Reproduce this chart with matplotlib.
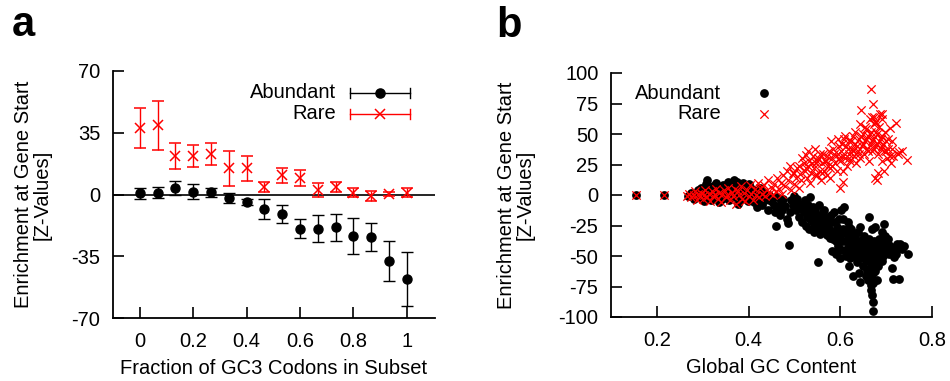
import numpy as np
import matplotlib
matplotlib.use("Agg")
import matplotlib.pyplot as plt

plt.rcParams["font.family"] = ["Liberation Sans", "DejaVu Sans"]
plt.rcParams["font.size"] = 14.5
plt.rcParams["axes.unicode_minus"] = False

FS = 14.5

# ---------------- panel a: enrichment vs GC3 fraction ----------------
gc3_fraction = [i / 15 for i in range(16)]
abundant_mean = [0.6, 1.1, 3.6, 1.7, 1.3, -1.9, -4.2, -8.3, -11.0, -19.3,
                 -19.3, -18.7, -23.3, -24.0, -37.8, -48.0]
abundant_err = [3.2, 3.0, 4.0, 4.0, 2.5, 2.7, 1.5, 5.7, 5.2, 5.3,
                7.4, 7.6, 10.2, 8.0, 11.4, 15.3]
rare_mean = [37.8, 39.3, 21.8, 21.9, 22.9, 14.8, 14.9, 4.4, 11.0, 9.5,
             2.5, 4.4, 1.1, -0.9, 0.4, 1.1]
rare_err = [11.4, 13.9, 7.2, 6.2, 6.2, 9.8, 7.2, 2.7, 4.2, 4.5,
            4.0, 2.8, 2.6, 2.7, 1.3, 2.5]

# ---------------- panel b: enrichment vs global GC content ----------------
abundant_gc = [
    0.155, 0.215,
    0.268, 0.275, 0.280, 0.285, 0.290, 0.292, 0.296, 0.300, 0.303, 0.305,
    0.308, 0.310, 0.313, 0.316, 0.318, 0.320, 0.323, 0.325, 0.328, 0.330,
    0.333, 0.336, 0.338, 0.340, 0.343, 0.345, 0.348, 0.350, 0.352, 0.355,
    0.358, 0.360, 0.362, 0.365, 0.368, 0.370, 0.372, 0.375, 0.378, 0.380,
    0.382, 0.385, 0.388, 0.390, 0.392, 0.395, 0.398, 0.400, 0.402, 0.405,
    0.408, 0.410, 0.412, 0.415, 0.418, 0.420, 0.423, 0.425, 0.428, 0.430,
    0.433, 0.436, 0.440, 0.442, 0.445,
    0.448, 0.452, 0.455, 0.458, 0.460, 0.462, 0.465, 0.468, 0.470, 0.473,
    0.476, 0.480, 0.483, 0.486, 0.488, 0.490, 0.493, 0.496, 0.500, 0.503,
    0.506, 0.510, 0.513, 0.516, 0.520, 0.522,
    0.525, 0.528, 0.530, 0.532, 0.535, 0.537, 0.540, 0.542, 0.545, 0.547,
    0.550, 0.552, 0.554, 0.556, 0.558, 0.560, 0.563, 0.565, 0.568, 0.570,
    0.573, 0.575, 0.578, 0.580, 0.582, 0.585, 0.587, 0.590, 0.592, 0.595,
    0.597, 0.600,
    0.602, 0.604, 0.606, 0.608, 0.610, 0.612, 0.614, 0.616, 0.618, 0.620,
    0.622, 0.624, 0.626, 0.628, 0.630, 0.632, 0.634, 0.636, 0.638, 0.640,
    0.642, 0.644, 0.645, 0.647, 0.649, 0.650, 0.652, 0.654, 0.656, 0.658,
    0.660, 0.662, 0.663, 0.664, 0.665, 0.666, 0.667, 0.668, 0.669, 0.670,
    0.671, 0.671, 0.672, 0.673, 0.674, 0.675, 0.676, 0.677, 0.678, 0.679,
    0.680, 0.682, 0.684, 0.686, 0.688, 0.690, 0.692, 0.694, 0.696, 0.698,
    0.700,
    0.703, 0.706, 0.709, 0.712, 0.715, 0.718, 0.720, 0.724, 0.727, 0.730,
    0.735, 0.740, 0.748,
    0.505, 0.515, 0.518, 0.524, 0.530, 0.535, 0.540, 0.545, 0.548, 0.553,
    0.557, 0.562, 0.566, 0.570, 0.576, 0.580, 0.584, 0.588, 0.591, 0.594,
    0.598, 0.603, 0.607, 0.611, 0.615, 0.619, 0.623, 0.627, 0.631, 0.635,
    0.639, 0.643, 0.646, 0.650, 0.653, 0.657, 0.661, 0.664, 0.667, 0.669,
    0.672, 0.674, 0.677, 0.680, 0.683, 0.687, 0.690, 0.693, 0.697, 0.701,
    0.705, 0.710, 0.716, 0.722, 0.668, 0.672, 0.660, 0.655, 0.640, 0.620,
    0.600, 0.590,
]
abundant_z = [
    0, 0,
    -1, 2, -3, 1, 4, -2, 6, 0, -5, 3,
    9, 12, -1, 5, -4, 2, 7, -2, 4, 10,
    0, -6, 6, 2, -3, 8, 1, -1, 5, 11,
    -4, 3, 9, 0, 12, -2, 6, 11, -7, 2,
    8, -3, 10, 4, -1, 7, -5, 2, 9, -2,
    5, 0, -6, 3, -10, 1, -3, 6, -1, -8,
    2, -4, -2, -12, 0,
    -5, -3, -8, -14, -25, -2, -10, -16, -6, -12,
    -3, -9, -20, -23, -41, -14, -4, -8, -1, -12,
    -6, -18, -10, -22, -14, -4,
    -25, -18, -8, -28, -2, -15, -22, -30, -12, -26,
    -20, -55, -8, -32, -16, -24, -28, -12, -20, -33,
    -26, -18, -35, -22, -46, -30, -14, -38, -26, -42,
    -20, -34,
    -12, -45, -28, -10, -38, -50, -32, -22, -42, -36,
    -52, -28, -46, -66, -40, -34, -48, -55, -30, -44,
    -26, -71, -38, -50, -42, -58, -34, -46, -40, -62,
    -48, -18, -36, -44, -52, -66, -40, -74, -28, -82,
    -88, -95, -46, -56, -38, -62, -26, -50, -44, -70,
    -40, -58, -36, -48, -42, -54, -30, -46, -24, -40,
    -44,
    -36, -48, -42, -60, -69, -51, -44, -40, -69, -40,
    -44, -42, -48,
    -3, -8, -12, -6, -14, -20, -10, -24, -16, -28,
    -20, -14, -30, -24, -28, -16, -36, -22, -32, -28,
    -44, -38, -20, -30, -44, -26, -40, -34, -50, -42,
    -38, -52, -44, -36, -48, -54, -42, -60, -46, -56,
    -64, -48, -42, -52, -46, -38, -44, -50, -34, -42,
    -40, -46, -44, -48, -78, -72, -70, -66, -64, -58,
    -52, -48,
]

rare_gc = [
    0.155, 0.215,
    0.265, 0.270, 0.275, 0.280, 0.283, 0.287, 0.290, 0.294, 0.297, 0.300,
    0.303, 0.306, 0.310, 0.313, 0.316, 0.320, 0.323, 0.326, 0.330, 0.333,
    0.336, 0.340, 0.343, 0.346, 0.350, 0.353, 0.356, 0.360, 0.363, 0.366,
    0.370, 0.373, 0.376, 0.380, 0.383, 0.386, 0.390, 0.393, 0.396, 0.400,
    0.403, 0.406, 0.410, 0.413, 0.416, 0.420, 0.423, 0.426, 0.430, 0.433,
    0.436, 0.440, 0.443, 0.446, 0.450,
    0.453, 0.456, 0.460, 0.463, 0.466, 0.470, 0.473, 0.476, 0.480, 0.483,
    0.486, 0.490, 0.493, 0.496, 0.500, 0.503, 0.506, 0.510, 0.513,
    0.516, 0.520, 0.522, 0.525, 0.528, 0.530, 0.532, 0.535, 0.537, 0.540,
    0.542, 0.545, 0.547, 0.550, 0.552, 0.555, 0.558, 0.560, 0.563, 0.565,
    0.568, 0.570, 0.573, 0.575, 0.578, 0.580, 0.582, 0.585, 0.588, 0.600,
    0.605, 0.594, 0.596, 0.598, 0.600,
    0.602, 0.605, 0.608, 0.610, 0.612, 0.615, 0.618, 0.620, 0.622, 0.625,
    0.628, 0.630, 0.632, 0.635, 0.638, 0.640, 0.642, 0.644, 0.646, 0.648,
    0.650, 0.652, 0.654, 0.656, 0.658, 0.660, 0.662, 0.664, 0.668, 0.666,
    0.667, 0.672, 0.669, 0.670, 0.672, 0.674, 0.675, 0.676, 0.678, 0.680,
    0.682, 0.684, 0.686, 0.688, 0.690, 0.692, 0.694, 0.696, 0.698, 0.700,
    0.702, 0.705, 0.708, 0.710, 0.713, 0.716, 0.721, 0.725, 0.728, 0.735,
    0.746,
    0.500, 0.510, 0.515, 0.525, 0.530, 0.538, 0.545, 0.550, 0.556, 0.560,
    0.566, 0.572, 0.577, 0.583, 0.587, 0.593, 0.597, 0.603, 0.607, 0.611,
    0.616, 0.620, 0.624, 0.628, 0.633, 0.637, 0.641, 0.645, 0.649, 0.653,
    0.657, 0.661, 0.665, 0.669, 0.673, 0.677, 0.680, 0.684, 0.688, 0.692,
    0.696, 0.700, 0.704, 0.708, 0.712, 0.680, 0.683, 0.690, 0.674, 0.676,
    0.690,
]
rare_z = [
    0, 0,
    -1, 1, -2, 0, 3, -4, 1, -1, 2, -3,
    0, 4, -2, 1, -5, 3, -1, 0, 5, -3,
    2, -6, 1, 4, -2, 0, 6, -4, 2, -1,
    5, -7, 3, 0, 7, -3, 2, -5, 4, -1,
    8, 1, -4, 5, 0, 10, -2, 6, 1, 8,
    -1, 4, 12, 2, 6,
    0, 9, 3, 14, 5, 10, 1, 16, 7, 20,
    12, 24, 4, 18, 9, 14, 22, 6, 17,
    30, 26, 20, 33, 14, 24, 28, 10, 18, 32,
    22, 38, 26, 16, 30, 20, 12, 26, 34, 20,
    28, 16, 24, 36, 22, 44, 30, 38, 26, 6,
    11, 34, 46, 40, 28,
    36, 20, 46, 30, 40, 24, 34, 44, 28, 38,
    48, 32, 42, 26, 36, 46, 58, 30, 70, 40,
    50, 34, 44, 54, 38, 48, 28, 62, 87, 42,
    52, 75, 36, 64, 46, 58, 14, 40, 60, 50,
    34, 44, 66, 38, 48, 28, 42, 20, 52, 36,
    30, 46, 55, 26, 38, 32, 59, 34, 35, 36,
    29,
    18, 24, 12, 22, 36, 26, 16, 28, 34, 18,
    28, 32, 14, 24, 34, 20, 30, 42, 32, 48,
    38, 30, 44, 36, 52, 40, 34, 48, 42, 56,
    46, 36, 50, 44, 38, 52, 42, 56, 46, 40,
    36, 44, 38, 32, 44, 12, 18, 62, 64, 60,
    66,
]

fig = plt.figure(figsize=(9.5, 3.81), dpi=100)


def px_axes(left, top, right, bottom):
    return fig.add_axes([left / 950, 1 - bottom / 381,
                         (right - left) / 950, (bottom - top) / 381])


def style_axes(ax):
    for side in ("top", "right"):
        ax.spines[side].set_visible(False)
    for side in ("left", "bottom"):
        ax.spines[side].set_linewidth(1.3)
    ax.tick_params(direction="in", length=8, width=1.2, labelsize=FS)
    ax.tick_params(axis="y", pad=9)
    ax.tick_params(axis="x", pad=10)


# ---- panel a ----
ax1 = px_axes(113, 71, 435, 318)
style_axes(ax1)
ax1.axhline(0, color="black", lw=1.2, zorder=1)
ax1.errorbar(gc3_fraction, abundant_mean, yerr=abundant_err, fmt="o",
             color="black", ms=6.5, lw=1.0, capsize=4.5, capthick=1.0,
             zorder=3)
ax1.errorbar(gc3_fraction, rare_mean, yerr=rare_err, fmt="x",
             color="red", ms=6.5, mew=1.1, lw=1.0, capsize=4.5, capthick=1.0,
             zorder=3)
ax1.set_xlim(-0.1, 1.105)
ax1.set_ylim(-70, 70)
ax1.set_xticks([0, 0.2, 0.4, 0.6, 0.8, 1.0])
ax1.set_xticklabels(["0", "0.2", "0.4", "0.6", "0.8", "1"])
ax1.set_yticks([-70, -35, 0, 35, 70])
ax1.set_xlabel("Fraction of GC3 Codons in Subset", fontsize=FS, labelpad=6)
ax1.set_ylabel("Enrichment at Gene Start\n[Z-Values]", fontsize=FS,
               linespacing=1.0)
ax1.yaxis.set_label_coords(-0.19, 0.5)

# legend drawn in the gnuplot style: label, then a horizontal error bar
tr = ax1.transAxes
for label, color, marker, yy in (("Abundant", "black", "o", 0.911),
                                 ("Rare", "red", "x", 0.826)):
    ax1.text(0.693, yy, label, transform=tr, ha="right", va="center",
             fontsize=FS)
    ax1.plot([0.736, 0.922], [yy, yy], color=color, lw=1.0, transform=tr,
             clip_on=False)
    for xc in (0.736, 0.922):
        ax1.plot([xc, xc], [yy - 0.022, yy + 0.022], color=color, lw=1.0,
                 transform=tr, clip_on=False)
    ax1.plot([0.829], [yy], marker=marker, color=color, ms=6.5, mew=1.1,
             transform=tr, clip_on=False)

# ---- panel b ----
ax2 = px_axes(611, 73, 932, 317)
style_axes(ax2)
ax2.scatter(abundant_gc, abundant_z, s=40, marker="o", color="black",
            linewidths=0, zorder=2)
ax2.scatter(rare_gc, rare_z, s=36, marker="x", color="red",
            linewidths=0.9, zorder=3)
ax2.set_xlim(0.1, 0.8)
ax2.set_ylim(-100, 100)
ax2.set_xticks([0.2, 0.4, 0.6, 0.8])
ax2.set_yticks([-100, -75, -50, -25, 0, 25, 50, 75, 100])
ax2.set_xlabel("Global GC Content", fontsize=FS, labelpad=6)
ax2.set_ylabel("Enrichment at Gene Start\n[Z-Values]", fontsize=FS,
               linespacing=1.0)
ax2.yaxis.set_label_coords(-0.237, 0.5)

tr2 = ax2.transAxes
ax2.text(0.343, 0.918, "Abundant", transform=tr2, ha="right", va="center",
         fontsize=FS)
ax2.text(0.343, 0.832, "Rare", transform=tr2, ha="right", va="center",
         fontsize=FS)
ax2.scatter([0.477], [0.918], s=40, marker="o", color="black", linewidths=0,
            transform=tr2, clip_on=False)
ax2.scatter([0.477], [0.832], s=36, marker="x", color="red", linewidths=0.9,
            transform=tr2, clip_on=False)

# panel letters
fig.text(12 / 950, 1 - 36 / 381, "a", fontsize=30, fontweight="bold",
         ha="left", va="baseline")
fig.text(496 / 950, 1 - 37 / 381, "b", fontsize=30, fontweight="bold",
         ha="left", va="baseline")

fig.savefig("out.png", dpi=100)
